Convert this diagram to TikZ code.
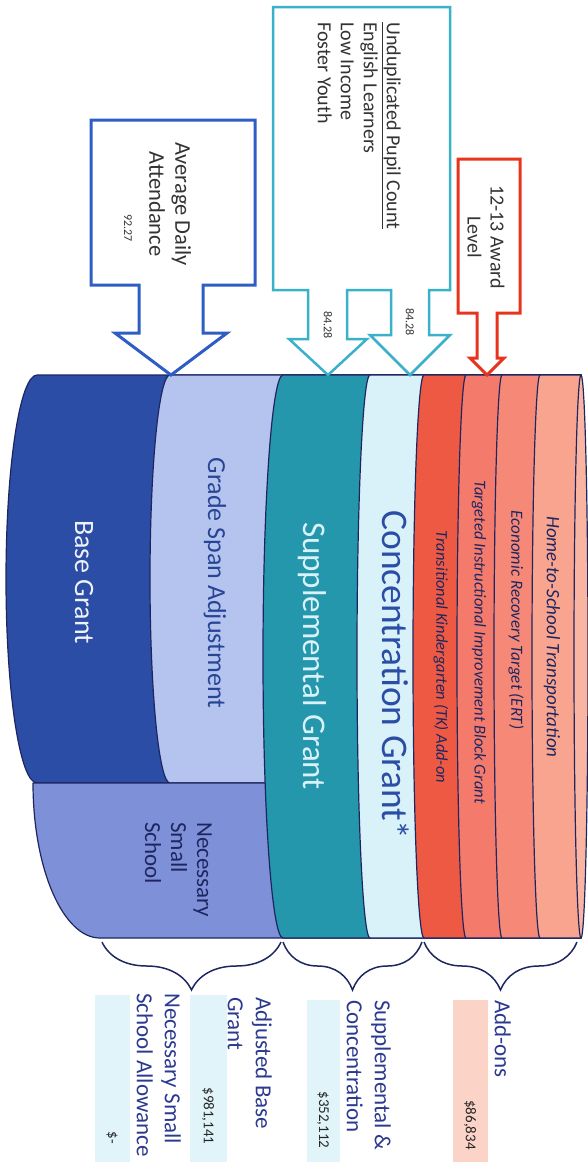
\documentclass[tikz,border=0pt]{standalone}
\usepackage{fontspec}
\setmainfont{Carlito}
\usetikzlibrary{decorations.pathreplacing}
\definecolor{basedark}{HTML}{2B4DA6}
\definecolor{gradelight}{HTML}{B5C3EF}
\definecolor{nssblue}{HTML}{7D90D8}
\definecolor{suppteal}{HTML}{2597AC}
\definecolor{conccyan}{HTML}{D9F2F9}
\definecolor{tkred}{HTML}{EE5944}
\definecolor{tiibred}{HTML}{F47B6C}
\definecolor{ertred}{HTML}{F58877}
\definecolor{htsred}{HTML}{F9A48E}
\definecolor{capred}{HTML}{FAB5A2}
\definecolor{edgenavy}{HTML}{1E2660}
\definecolor{adablue}{HTML}{2F5DC6}
\definecolor{upcteal}{HTML}{3BB0C9}
\definecolor{awardred}{HTML}{E8341C}
\definecolor{legnavy}{HTML}{2B3990}
\definecolor{boxcyan}{HTML}{E0F4FA}
\definecolor{boxpink}{HTML}{FCD3C7}
\tikzset{
  seg style/.style={draw=edgenavy, line width=1.2pt, line join=round},
  call style/.style={line width=3pt, line join=miter, fill=white},
  lbl style/.style={rotate=-90, inner sep=0pt},
  box text/.style={lbl style, text=black!80, font=\fontsize{22.5}{26}\selectfont},
  num text/.style={lbl style, text=black!80, font=\fontsize{12}{14}\selectfont},
  addon text/.style={lbl style, text=edgenavy, font=\itshape\fontsize{17}{20}\selectfont},
  leg text/.style={lbl style, text=legnavy, anchor=north west, align=left,
    font=\fontsize{23}{28}\selectfont},
  amt text/.style={lbl style, text=black!85, font=\fontsize{15}{18}\selectfont},
  brace style/.style={draw=edgenavy, line width=1.5pt,
    decorate, decoration={brace, mirror, amplitude=48pt, aspect=0.5}}
}
\begin{document}
\begin{tikzpicture}[x=1pt, y=-1pt]
\useasboundingbox (0,0) rectangle (588,1162);

% the cylinder, left to right
\filldraw[seg style, fill=basedark] (37,375) arc[start angle=270, end angle=90, x radius=31, y radius=204] -- (581,783) -- (581,375) -- cycle;
\filldraw[seg style, fill=gradelight] (170,375) arc[start angle=270, end angle=90, x radius=20, y radius=204] -- (581,783) -- (581,375) -- cycle;
\filldraw[seg style, fill=nssblue] (33,783) arc[start angle=180, end angle=90, x radius=67, y radius=155] -- (581,938) -- (581,783) -- cycle;
\filldraw[seg style, fill=suppteal] (283,375) arc[start angle=270, end angle=90, x radius=20, y radius=281.5] -- (581,938) -- (581,375) -- cycle;
\filldraw[seg style, fill=conccyan] (370,375) arc[start angle=270, end angle=90, x radius=13, y radius=281.5] -- (581,938) -- (581,375) -- cycle;
\filldraw[seg style, fill=tkred] (424,375) arc[start angle=270, end angle=90, x radius=11, y radius=281.5] -- (581,938) -- (581,375) -- cycle;
\filldraw[seg style, fill=tiibred] (466,375) arc[start angle=270, end angle=90, x radius=9, y radius=281.5] -- (581,938) -- (581,375) -- cycle;
\filldraw[seg style, fill=ertred] (502,375) arc[start angle=270, end angle=90, x radius=8, y radius=281.5] -- (581,938) -- (581,375) -- cycle;
\filldraw[seg style, fill=htsred] (540,375) arc[start angle=270, end angle=90, x radius=8, y radius=281.5] -- (581,938) -- (581,375) -- cycle;
\filldraw[seg style, fill=capred] (581,656.5) ellipse[x radius=7, y radius=281.5];

\node[lbl style, text=white!92!basedark, font=\fontsize{28}{32}\selectfont] (base) at (84,582) {Base Grant};
\node[lbl style, text=basedark!90!black, font=\fontsize{26}{30}\selectfont] (grade) at (215,583) {Grade Span Adjustment};
\node[lbl style, text=edgenavy, anchor=north west, align=left, font=\fontsize{23}{26}\selectfont] (nss) at (212,822) {Necessary\\Small\\School};
\node[lbl style, text=conccyan, font=\fontsize{33}{36}\selectfont] (supp) at (312,656) {Supplemental Grant};
\node[lbl style, text=basedark, font=\fontsize{37.5}{40}\selectfont] (conc) at (396,675) {Concentration Grant*};
\node[addon text, font=\itshape\fontsize{16.5}{20}\selectfont] (tk) at (441,657) {Transitional Kindergarten (TK) Add-on};
\node[addon text, font=\itshape\fontsize{16.6}{20}\selectfont] (tiig) at (479,642) {Targeted Instructional Improvement Block Grant};
\node[addon text] (ert) at (516,620) {Economic Recovery Target (ERT)};
\node[addon text, font=\itshape\fontsize{19}{22}\selectfont] (hts) at (552,637) {Home-to-School Transportation};

% callouts
\draw[call style, draw=adablue] (91,120) -- (255,120) -- (255,285) -- (203,285) -- (203,333) -- (227,333)
  -- (171,375) -- (115,333) -- (139,333) -- (139,285) -- (91,285) -- cycle;
\node[box text, align=center] (ada) at (170,204) {Average Daily\\Attendance};
\node[num text] (adanum) at (128,228) {92.27};

\draw[call style, draw=upcteal, line width=2.5pt] (273,7) -- (450,7) -- (450,290) -- (429,290) -- (429,335) -- (450,335)
  -- (410,375) -- (370,335) -- (391,335) -- (391,290) -- (347,290) -- (347,339) -- (367,339)
  -- (328,375) -- (289,339) -- (308,339) -- (308,290) -- (273,290) -- cycle;
\node[box text, anchor=north west, align=left, font=\fontsize{20}{23}\selectfont] (upc) at (401,22)
  {\underline{Unduplicated Pupil Count}\\English Learners\\Low Income\\Foster Youth};
\node[num text] (supnum) at (328,325) {84.28};
\node[num text] (concnum) at (410,322) {84.28};

\draw[call style, draw=awardred] (458,159) -- (520,159) -- (520,313) -- (497,313) -- (497,358) -- (504,358)
  -- (487,375) -- (470,358) -- (477,358) -- (477,313) -- (458,313) -- cycle;
\node[box text, align=center, font=\fontsize{20}{23}\selectfont] (award) at (486,237) {12-13 Award\\Level};

% braces
\coordinate (b1l) at (102,942);
\coordinate (b1r) at (281,942);
\coordinate (b2r) at (422,942);
\coordinate (b3r) at (577,942);
\draw[brace style] (b1l) -- (b1r);
\draw[brace style] ([xshift=2pt]b1r) -- (b2r);
\draw[brace style] ([xshift=2pt]b2r) -- (b3r);

% totals
\fill[boxcyan] (95,995) rectangle (130,1162);
\fill[boxcyan] (190,995) rectangle (227,1162);
\fill[boxcyan] (307,1000) rectangle (340,1162);
\fill[boxpink] (453,1000) rectangle (488,1162);
\node[leg text] (adj) at (272,997) {Adjusted Base\\Grant};
\node[leg text] (nsa) at (181,993) {Necessary Small\\School Allowance};
\node[leg text] (sc) at (391,1000) {Supplemental \&\\Concentration};
\node[leg text] (add) at (511,1000) {Add-ons};
\node[amt text] (adjamt) at (208,1116) {\$981,141};
\node[amt text] (nsaamt) at (112,1138) {\$-};
\node[amt text] (scamt) at (323,1120) {\$352,112};
\node[amt text] (addamt) at (470,1125) {\$86,834};
\end{tikzpicture}
\end{document}
